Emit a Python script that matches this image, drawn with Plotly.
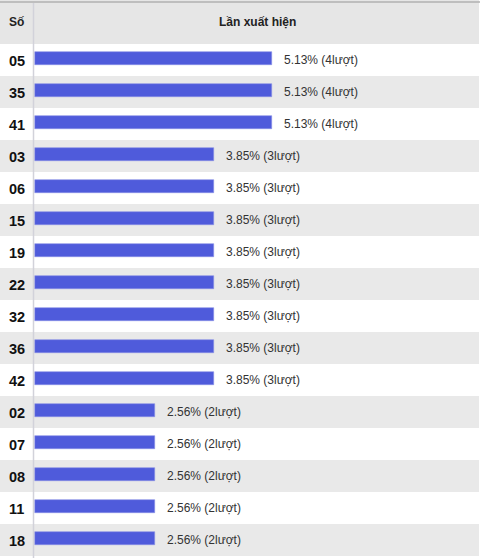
import plotly.graph_objects as go

numbers = ["05", "35", "41", "03", "06", "15", "19", "22", "32", "36", "42", "02", "07", "08", "11", "18"]
percents = [5.13, 5.13, 5.13, 3.85, 3.85, 3.85, 3.85, 3.85, 3.85, 3.85, 3.85, 2.56, 2.56, 2.56, 2.56, 2.56]
counts = [4, 4, 4, 3, 3, 3, 3, 3, 3, 3, 3, 2, 2, 2, 2, 2]
header_left = "Số"
header_right = "Lần xuất hiện"

W, H = 480, 558
ROW = 32
n = len(numbers)
idx = list(range(n))
px_per_unit = 45.5
zero_px = 38.6
bar_start_px = 35
xmin = -zero_px / px_per_unit
xmax = (W - zero_px) / px_per_unit
bar_base = (bar_start_px - zero_px) / px_per_unit
header_rows = 44 / ROW

fig = go.Figure()
fig.add_trace(go.Bar(
    x=[p - bar_base for p in percents], y=idx, orientation="h", base=bar_base,
    marker=dict(color="#4f5bdb", line=dict(color="#8a91e6", width=0.6)),
    width=0.39, hoverinfo="skip", offset=-0.245,
))

shapes = []
right_edge = 479 / W
# header background
shapes.append(dict(type="rect", xref="paper", yref="y", x0=0, x1=right_edge,
                   y0=-0.5 - header_rows, y1=-0.5, fillcolor="#e6e6e6", line_width=0, layer="below"))
for i in idx:
    shapes.append(dict(type="rect", xref="paper", yref="y", x0=0, x1=right_edge,
                       y0=i - 0.5, y1=i + 0.5,
                       fillcolor="#ffffff" if i % 2 == 0 else "#e9e9e9",
                       line_width=0, layer="below"))
# top border
shapes.append(dict(type="line", xref="paper", yref="paper", x0=0, x1=1, y0=1 - 2 / 556, y1=1 - 2 / 556,
                   line=dict(color="#b0b0b0", width=1.5)))
# column divider
div_x = (33.5 - zero_px) / px_per_unit
shapes.append(dict(type="line", xref="x", yref="paper", x0=div_x, x1=div_x,
                   y0=0, y1=1 - 3 / 556, line=dict(color="#d2d2da", width=1.5)))

annotations = []
font_txt = "Liberation Sans, Arial, Helvetica, sans-serif"
for i, (num, p, c) in enumerate(zip(numbers, percents, counts)):
    annotations.append(dict(x=0, xref="paper", y=i, yref="y", text="<b>%s</b>" % num,
                            showarrow=False, xanchor="left", xshift=7, yshift=-0.5,
                            font=dict(family=font_txt, size=14.5, color="#111111")))
    annotations.append(dict(x=p, xref="x", y=i, yref="y", text="%.2f%% (%dlượt)" % (p, c),
                            showarrow=False, xanchor="left", xshift=10, yshift=0,
                            font=dict(family=font_txt, size=12, color="#333333")))
annotations.append(dict(x=0, xref="paper", y=-0.5 - header_rows / 2, yref="y", text="<b>%s</b>" % header_left,
                        showarrow=False, xanchor="left", xshift=7, yshift=0,
                        font=dict(family=font_txt, size=12, color="#222222")))
annotations.append(dict(x=257 / W, xref="paper", y=-0.5 - header_rows / 2, yref="y", text="<b>%s</b>" % header_right,
                        showarrow=False, xanchor="center", yshift=0,
                        font=dict(family=font_txt, size=12, color="#222222")))

fig.update_layout(
    width=W, height=H,
    margin=dict(l=0, r=0, t=0, b=0, pad=0),
    paper_bgcolor="#ffffff", plot_bgcolor="#ffffff",
    showlegend=False, bargap=0,
    shapes=shapes, annotations=annotations,
    xaxis=dict(range=[xmin, xmax], visible=False, fixedrange=True),
    yaxis=dict(range=[n - 0.5, -0.5 - header_rows], domain=[2 / H, 1], visible=False, fixedrange=True),
)

fig.write_html("out.html", config={"displayModeBar": False},
               post_script="document.body.style.margin='0';document.body.style.overflow='hidden';")
